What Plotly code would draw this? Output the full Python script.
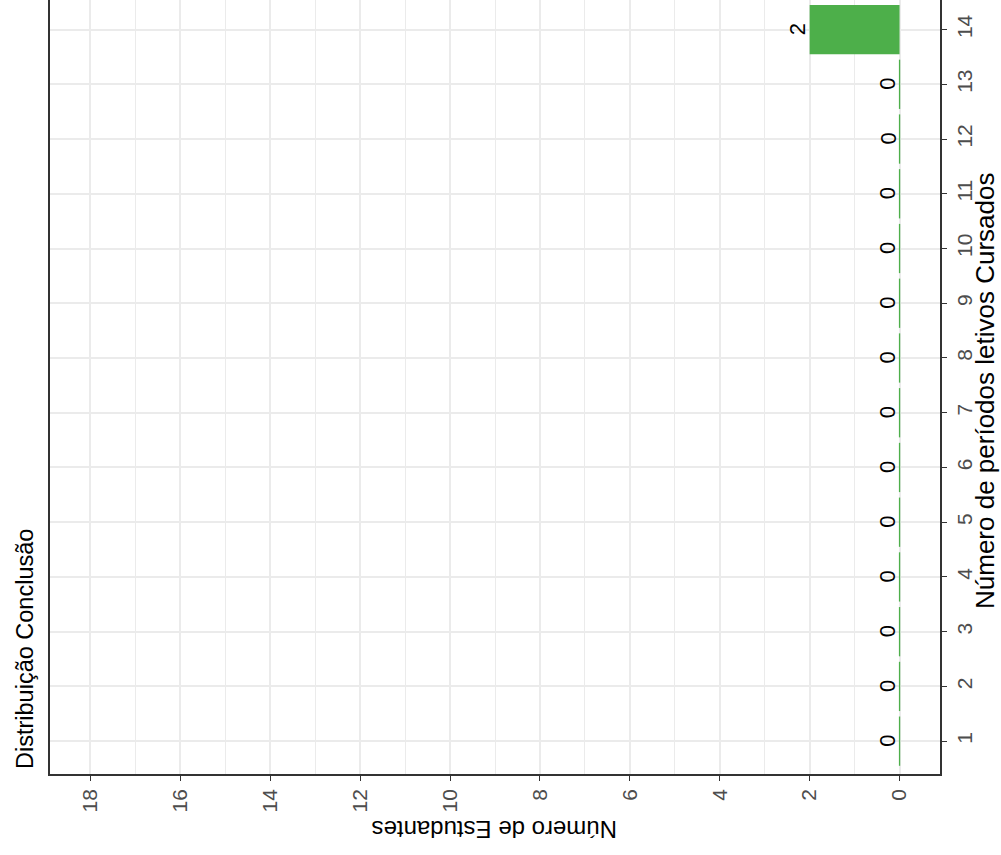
import plotly.graph_objects as go

# Data
periodos = list(range(1, 15))
estudantes = [0, 0, 0, 0, 0, 0, 0, 0, 0, 0, 0, 0, 0, 2]
value_ticks = [0, 2, 4, 6, 8, 10, 12, 14, 16, 18]

title_text = "Distribuição Conclusão"
value_axis_title = "Número de Estudantes"
cat_axis_title = "Número de períodos letivos Cursados"

BAR_COLOR = "#4DAF4A"
FONT = "Liberation Sans, Arial, sans-serif"

W, H = 1001, 855
L, R, T, B = 50, 61, 0, 81
PW = W - L - R
PH = H - T - B


def px_x(px):
    return (px - L) / PW


def px_y(py):
    return (H - B - py) / PH


fig = go.Figure()

fig.add_trace(go.Bar(
    x=estudantes, y=periodos, orientation="h", width=0.9,
    marker=dict(color=BAR_COLOR, line=dict(width=0)),
    showlegend=False, hoverinfo="x+y",
))

# zero-height bars appear as thin green lines
zx, zy = [], []
for p, v in zip(periodos, estudantes):
    if v == 0:
        zx += [v, v, None]
        zy += [p - 0.45, p + 0.45, None]
fig.add_trace(go.Scatter(
    x=zx, y=zy, mode="lines", line=dict(color=BAR_COLOR, width=1.3),
    showlegend=False, hoverinfo="skip",
))

# value labels
for p, v in zip(periodos, estudantes):
    fig.add_annotation(
        x=v, y=p, xref="x", yref="y", text=str(v), showarrow=False,
        textangle=-90, xanchor="center", yanchor="middle", xshift=-12,
        font=dict(family=FONT, size=22, color="black"),
    )

# title
fig.add_annotation(
    x=px_x(25), y=px_y(771), xref="paper", yref="paper", text=title_text,
    showarrow=False, textangle=-90, xanchor="center", yanchor="bottom",
    font=dict(family=FONT, size=23.5, color="black"),
)
# value axis title (upside down)
fig.add_annotation(
    x=px_x(495), y=px_y(830), xref="paper", yref="paper", text=value_axis_title,
    showarrow=False, textangle=180, xanchor="center", yanchor="middle",
    font=dict(family=FONT, size=24, color="black"),
)
# category axis title
fig.add_annotation(
    x=px_x(985), y=px_y(391), xref="paper", yref="paper", text=cat_axis_title,
    showarrow=False, textangle=-90, xanchor="center", yanchor="middle",
    font=dict(family=FONT, size=26, color="black"),
)

fig.update_layout(
    width=W, height=H,
    margin=dict(l=L, r=R, t=T, b=B, pad=0),
    paper_bgcolor="white", plot_bgcolor="white",
    bargap=0.1,
    xaxis=dict(
        range=[18.9, -0.9], tickvals=value_ticks, tickangle=-90,
        ticks="outside", ticklen=5, tickcolor="#333333", tickwidth=1.2,
        showline=True, linecolor="#333333", linewidth=1.5, mirror=False,
        showgrid=True, gridcolor="#EBEBEB", gridwidth=1.8,
        minor=dict(dtick=1, tick0=0, showgrid=True, gridcolor="#EBEBEB", gridwidth=0.9, ticks=""),
        zeroline=False,
        tickfont=dict(family=FONT, size=21, color="#4D4D4D"),
    ),
    yaxis=dict(
        range=[0.4, 14.54], tickvals=periodos, tickangle=-90, side="right",
        ticks="outside", ticklen=5, tickcolor="#333333", tickwidth=1.2,
        showline=True, linecolor="#333333", linewidth=1.5, mirror=True,
        showgrid=True, gridcolor="#EBEBEB", gridwidth=1.8,
        zeroline=False,
        tickfont=dict(family=FONT, size=21, color="#4D4D4D"),
    ),
)

fig.write_html("out.html", config={"displayModeBar": False},
               post_script="document.body.style.margin='0px';")
